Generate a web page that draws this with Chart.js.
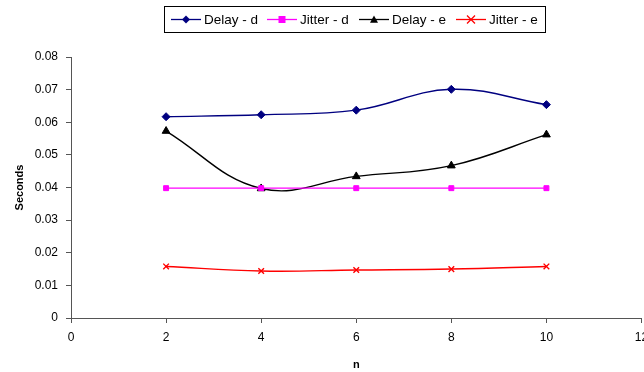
<!DOCTYPE html>
<html>
<head>
<meta charset="utf-8">
<script src="https://cdn.jsdelivr.net/npm/chart.js@4/dist/chart.umd.min.js"></script>
<style>
  html, body { margin: 0; padding: 0; background: #fff; overflow: hidden; width: 644px; height: 372px; }
  #wrap { width: 647px; height: 372px; position: relative; }
</style>
</head>
<body>
<div id="wrap"><canvas id="c"></canvas></div>
<script>
// Measured delay and jitter (seconds) against n
const nValues = [2, 4, 6, 8, 10];
const delayD  = [0.0617, 0.0623, 0.0637, 0.0701, 0.0654];
const jitterD = [0.0398, 0.0398, 0.0398, 0.0398, 0.0398];
const delayE  = [0.0573, 0.0397, 0.0434, 0.0467, 0.0562];
const jitterE = [0.0158, 0.0144, 0.0147, 0.0150, 0.0158];

const seriesNames = ['Delay - d', 'Jitter - d', 'Delay - e', 'Jitter - e'];
const xTicks = [0, 2, 4, 6, 8, 10, 12];
const yTicks = [0, 0.01, 0.02, 0.03, 0.04, 0.05, 0.06, 0.07, 0.08];

const FONT = '"Liberation Sans", Arial, sans-serif';

const styles = [
  { color: '#000080', point: 'rectRot',  radius: 4 },
  { color: '#FF00FF', point: 'rect',     radius: 3.5 },
  { color: '#000000', point: 'triangle', radius: 4.5 },
  { color: '#FF0000', point: 'crossRot', radius: 4 }
];

const toPoints = arr => arr.map((v, i) => ({ x: nValues[i], y: v }));
const allSeries = [delayD, jitterD, delayE, jitterE];

const datasets = allSeries.map((arr, i) => ({
  label: seriesNames[i],
  data: toPoints(arr),
  borderColor: styles[i].color,
  backgroundColor: styles[i].color,
  borderWidth: 1.4,
  tension: 0.4,
  pointStyle: styles[i].point,
  pointRadius: styles[i].radius,
  pointHoverRadius: styles[i].radius,
  pointBackgroundColor: styles[i].color,
  pointBorderColor: styles[i].color,
  pointBorderWidth: styles[i].point === 'crossRot' ? 1.4 : 1,
  fill: false
}));

// Marker drawing for the framed legend
function drawMarker(ctx, kind, x, y, r, color) {
  ctx.save();
  ctx.fillStyle = color;
  ctx.strokeStyle = color;
  ctx.lineWidth = 1.3;
  ctx.beginPath();
  if (kind === 'rectRot') {
    ctx.moveTo(x, y - r); ctx.lineTo(x + r, y); ctx.lineTo(x, y + r); ctx.lineTo(x - r, y);
    ctx.closePath(); ctx.fill();
  } else if (kind === 'rect') {
    ctx.rect(x - r, y - r, 2 * r, 2 * r); ctx.fill();
  } else if (kind === 'triangle') {
    ctx.moveTo(x, y - r); ctx.lineTo(x + r, y + r * 0.8); ctx.lineTo(x - r, y + r * 0.8);
    ctx.closePath(); ctx.fill();
  } else {
    ctx.moveTo(x - r, y - r); ctx.lineTo(x + r, y + r);
    ctx.moveTo(x + r, y - r); ctx.lineTo(x - r, y + r);
    ctx.stroke();
  }
  ctx.restore();
}

const boxedLegend = {
  id: 'boxedLegend',
  afterDraw(chart) {
    const ctx = chart.ctx;
    const box = { x: 164.5, y: 6.5, w: 381, h: 26 };
    const slots = [171, 267, 359, 456];
    const cy = 19.5;
    ctx.save();
    ctx.strokeStyle = '#000';
    ctx.lineWidth = 1;
    ctx.strokeRect(box.x, box.y, box.w, box.h);
    ctx.font = '13.5px ' + FONT;
    ctx.textBaseline = 'middle';
    ctx.textAlign = 'left';
    seriesNames.forEach((name, i) => {
      const s = styles[i];
      const x0 = slots[i];
      ctx.strokeStyle = s.color;
      ctx.lineWidth = 1.3;
      ctx.beginPath();
      ctx.moveTo(x0, cy); ctx.lineTo(x0 + 30, cy);
      ctx.stroke();
      drawMarker(ctx, s.point, x0 + 15, cy, s.point === 'rect' ? 3.5 : 4, s.color);
      ctx.fillStyle = '#000';
      ctx.fillText(name, x0 + 33, cy + 0.5);
    });
    ctx.restore();
  }
};

Chart.defaults.font.family = FONT;
Chart.defaults.color = '#000';

new Chart(document.getElementById('c'), {
  type: 'line',
  data: { datasets },
  plugins: [boxedLegend],
  options: {
    responsive: true,
    maintainAspectRatio: false,
    animation: false,
    devicePixelRatio: 1,
    layout: { padding: { top: 57, right: 0, left: 0, bottom: 0 } },
    plugins: { legend: { display: false }, tooltip: { enabled: false } },
    scales: {
      x: {
        type: 'linear',
        min: 0, max: 12,
        afterBuildTicks(scale) { scale.ticks = xTicks.map(v => ({ value: v })); },
        afterFit(scale) { scale.height = 54; scale.paddingLeft = 0; scale.paddingRight = 0; },
        grid: { drawOnChartArea: false, drawTicks: true, tickLength: 5, color: '#555', lineWidth: 1 },
        border: { display: true, color: '#555', width: 1 },
        ticks: { font: { size: 12 }, padding: 7, maxRotation: 0, autoSkip: false, color: '#000' },
        title: { display: true, text: 'n', font: { size: 11, weight: 'bold' }, padding: { top: 0, bottom: 0 } }
      },
      y: {
        min: 0, max: 0.08,
        afterBuildTicks(scale) { scale.ticks = yTicks.map(v => ({ value: v })); },
        afterFit(scale) { scale.width = 71; scale.paddingTop = 0; scale.paddingBottom = 0; },
        grid: { drawOnChartArea: false, drawTicks: true, tickLength: 5, color: '#555', lineWidth: 1 },
        border: { display: true, color: '#555', width: 1 },
        ticks: {
          font: { size: 12 }, padding: 8, color: '#000', autoSkip: false,
          callback: v => (v === 0 ? '0' : v.toFixed(2))
        },
        title: { display: true, text: 'Seconds', font: { size: 11, weight: 'bold' }, padding: { top: 13, bottom: 0 } }
      }
    }
  }
});
</script>
</body>
</html>
